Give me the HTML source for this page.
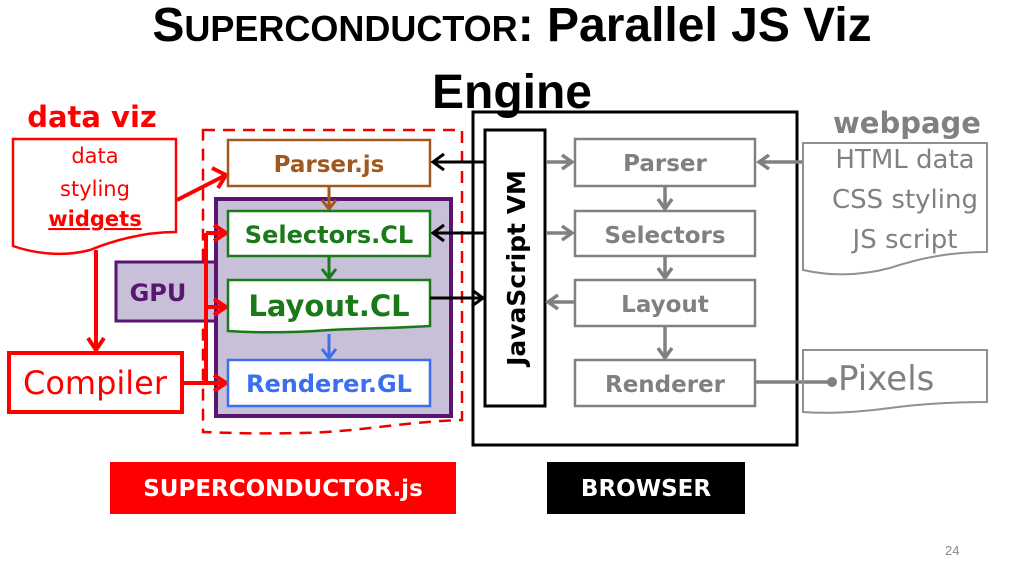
<!DOCTYPE html>
<html><head><meta charset="utf-8"><style>
body{margin:0;background:#fff}
svg{display:block;font-family:"Liberation Sans",Arial,sans-serif}
.c{font-family:"DejaVu Sans","Liberation Sans",sans-serif}
</style></head><body>
<svg width="1024" height="576" viewBox="0 0 1024 576" xmlns="http://www.w3.org/2000/svg">
<!-- Title -->
<text x="512" y="41" text-anchor="middle" font-size="48" font-weight="bold">S<tspan font-size="36">UPERCONDUCTOR</tspan>: Parallel JS Viz</text>
<text x="512" y="108" text-anchor="middle" font-size="48" font-weight="bold">Engine</text>

<!-- left data viz -->
<text x="92" y="127" text-anchor="middle" font-size="29" font-weight="bold" fill="#f00" class="c">data viz</text>
<path d="M13,139 H176 V232 C140,232 110,242 90,250 C60,258 30,252 13,246 Z" fill="#fff" stroke="#f00" stroke-width="2.5"/>
<text fill="#f00" font-size="21" text-anchor="middle" class="c"><tspan x="95" y="163">data</tspan><tspan x="95" y="196">styling</tspan><tspan x="95" y="226" font-weight="bold" text-decoration="underline">widgets</tspan></text>
<!-- dashed -->
<path d="M203,130 H462 V420 C400,422 360,432 300,433 C260,434 230,433 203,432 Z" fill="none" stroke="#e00" stroke-width="2.5" stroke-dasharray="12,8"/>
<!-- GPU -->
<rect x="116" y="262" width="100" height="59" fill="#c8bfd8" stroke="#5a1570" stroke-width="3"/>
<text x="158" y="301" text-anchor="middle" font-size="24" font-weight="bold" fill="#5a1570" class="c">GPU</text>
<rect x="216" y="199" width="235" height="217" fill="#c8bfd8" stroke="#5a1570" stroke-width="4"/>
<g stroke="#f00" stroke-width="4" fill="none">
<line x1="177" y1="200" x2="224" y2="176"/><path d="M212,168 L226,175 L218,188"/>
<line x1="96" y1="250" x2="96" y2="348"/><path d="M88,338 L96,350 L104,338"/>
<rect x="9" y="353" width="173" height="59"/>
<line x1="182" y1="383" x2="224" y2="383"/><path d="M214,375 L226,383 L214,391"/>
<line x1="206" y1="233" x2="206" y2="383"/>
<line x1="206" y1="233" x2="224" y2="233"/><path d="M214,225 L226,233 L214,241"/>
<line x1="206" y1="307" x2="224" y2="307"/><path d="M214,299 L226,307 L214,315"/>
</g>
<text x="95" y="394" text-anchor="middle" font-size="32" fill="#f00" class="c">Compiler</text>
<!-- left stack -->
<rect x="228" y="140" width="202" height="46" fill="#fff" stroke="#a0581e" stroke-width="2.5"/>
<text x="329" y="172" text-anchor="middle" font-size="23" font-weight="bold" fill="#a0581e" class="c">Parser.js</text>
<g stroke="#a0581e" stroke-width="3" fill="none"><line x1="329" y1="186" x2="329" y2="208"/><path d="M322,200 L329,209 L336,200"/></g>
<rect x="228" y="211" width="202" height="45" fill="#fff" stroke="#1a7a1a" stroke-width="2.5"/>
<text x="329" y="243" text-anchor="middle" font-size="24" font-weight="bold" fill="#1a7a1a" class="c">Selectors.CL</text>
<g stroke="#1a7a1a" stroke-width="3" fill="none"><line x1="329" y1="256" x2="329" y2="277"/><path d="M322,269 L329,278 L336,269"/></g>
<path d="M228,280 H430 V326 C400,328 370,328 330,330 C290,333 260,333 228,331 Z" fill="#fff" stroke="#1a7a1a" stroke-width="2.5"/>
<text x="329" y="316" text-anchor="middle" font-size="29" font-weight="bold" fill="#1a7a1a" class="c">Layout.CL</text>
<g stroke="#3c6ef0" stroke-width="3" fill="none"><line x1="329" y1="334" x2="329" y2="357"/><path d="M322,349 L329,358 L336,349"/></g>
<rect x="228" y="360" width="202" height="46" fill="#fff" stroke="#3c6ef0" stroke-width="2.5"/>
<text x="329" y="392" text-anchor="middle" font-size="24" font-weight="bold" fill="#3c6ef0" class="c">Renderer.GL</text>
<!-- black arrows -->
<g stroke="#000" stroke-width="3" fill="none">
<line x1="485" y1="162" x2="434" y2="162"/><path d="M444,154 L433,162 L444,170"/>
<line x1="485" y1="233" x2="434" y2="233"/><path d="M444,225 L433,233 L444,241"/>
<line x1="430" y1="298" x2="482" y2="298"/><path d="M472,290 L483,298 L472,306"/>
<rect x="473" y="112" width="324" height="333"/>
<rect x="485" y="130" width="60" height="276" fill="#fff"/>
</g>
<text transform="translate(525,268) rotate(-90)" text-anchor="middle" font-size="25" font-weight="bold" class="c">JavaScript VM</text>
<!-- gray stack -->
<g stroke="#808080" stroke-width="2.5" fill="#fff">
<rect x="575" y="139" width="180" height="47"/>
<rect x="575" y="211" width="180" height="45"/>
<rect x="575" y="280" width="180" height="46"/>
<rect x="575" y="360" width="180" height="46"/>
</g>
<g fill="#808080" font-size="23" font-weight="bold" text-anchor="middle" class="c">
<text x="665" y="171">Parser</text><text x="665" y="243">Selectors</text><text x="665" y="312">Layout</text><text x="665" y="392">Renderer</text>
</g>
<g stroke="#808080" stroke-width="3.5" fill="none">
<line x1="546" y1="162" x2="571" y2="162"/><path d="M562,155 L572,162 L562,169"/>
<line x1="546" y1="233" x2="571" y2="233"/><path d="M562,226 L572,233 L562,240"/>
<line x1="575" y1="302" x2="549" y2="302"/><path d="M558,295 L548,302 L558,309"/>
<line x1="665" y1="186" x2="665" y2="208"/><path d="M658,199 L665,209 L672,199"/>
<line x1="665" y1="256" x2="665" y2="277"/><path d="M658,268 L665,278 L672,268"/>
<line x1="665" y1="326" x2="665" y2="357"/><path d="M658,348 L665,358 L672,348"/>
<line x1="803" y1="162" x2="759" y2="162"/><path d="M769,155 L759,162 L769,169"/>
<line x1="755" y1="382" x2="830" y2="382"/>
</g>
<circle cx="832" cy="382" r="5" fill="#808080"/>
<!-- webpage -->
<text x="907" y="133" text-anchor="middle" font-size="29" font-weight="bold" fill="#808080" class="c">webpage</text>
<path d="M803,143 H987 V252 C950,252 920,258 890,268 C860,276 830,276 803,270 Z" fill="#fff" stroke="#909090" stroke-width="2"/>
<g fill="#808080" font-size="26" text-anchor="middle" class="c"><text x="905" y="168">HTML data</text><text x="905" y="208">CSS styling</text><text x="905" y="248">JS script</text></g>
<path d="M803,350 H987 V402 C950,402 920,404 890,408 C860,412 830,414 803,412 Z" fill="none" stroke="#909090" stroke-width="2"/>
<text x="838" y="390" font-size="34" fill="#808080" class="c">Pixels</text>
<!-- labels -->
<rect x="110" y="462" width="346" height="52" fill="#f00"/>
<text x="283" y="496" text-anchor="middle" font-size="23" font-weight="bold" fill="#fff" class="c">SUPERCONDUCTOR.js</text>
<rect x="547" y="462" width="198" height="52" fill="#000"/>
<text x="646" y="496" text-anchor="middle" font-size="23" font-weight="bold" fill="#fff" class="c">BROWSER</text>
<text x="945" y="555" font-size="13" fill="#888">24</text>
</svg>
</body></html>
